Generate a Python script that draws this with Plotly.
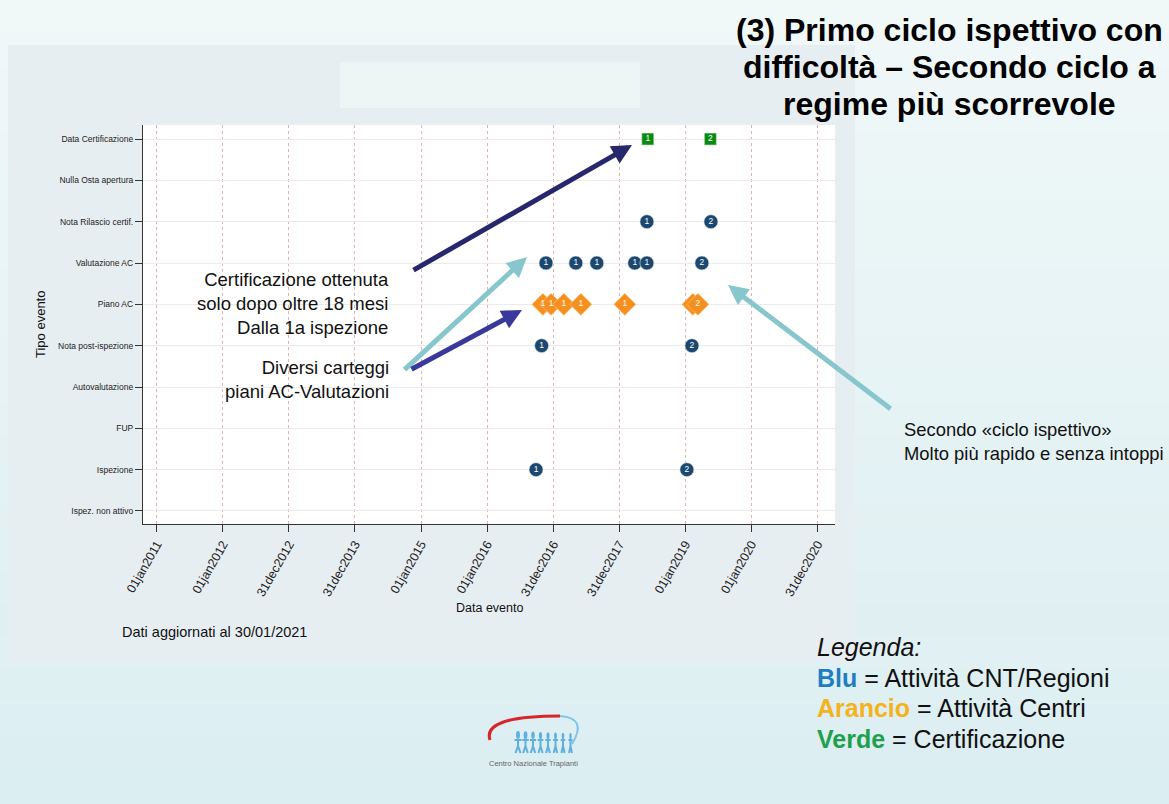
import plotly.graph_objects as go

W, H = 1169, 804
FONT = "Liberation Sans, Arial, sans-serif"


def px(x):
    return x / W


def py(y):
    return 1 - y / H


# categories, bottom to top
categories = ["Ispez. non attivo", "Ispezione", "FUP", "Autovalutazione",
              "Nota post-ispezione", "Piano AC", "Valutazione AC",
              "Nota Rilascio certif.", "Nulla Osta apertura", "Data Certificazione"]

tick_dates = ["2011-01-01", "2012-01-01", "2012-12-31", "2013-12-31", "2015-01-01",
              "2016-01-01", "2016-12-31", "2017-12-31", "2019-01-01", "2020-01-01",
              "2020-12-31"]
tick_labels = ["01jan2011", "01jan2012", "31dec2012", "31dec2013", "01jan2015",
               "01jan2016", "31dec2016", "31dec2017", "01jan2019", "01jan2020",
               "31dec2020"]

# CNT / Regioni activities (blue)
blue_dates = ["2016-09-27", "2019-01-09",
              "2016-10-28", "2019-02-06",
              "2016-11-21", "2017-05-05", "2017-08-29", "2018-03-27", "2018-06-02", "2019-04-02",
              "2018-06-02", "2019-05-22"]
blue_events = ["Ispezione", "Ispezione",
               "Nota post-ispezione", "Nota post-ispezione",
               "Valutazione AC", "Valutazione AC", "Valutazione AC", "Valutazione AC",
               "Valutazione AC", "Valutazione AC",
               "Nota Rilascio certif.", "Nota Rilascio certif."]
blue_labels = ["1", "2", "1", "2", "1", "1", "1", "1", "1", "2", "1", "2"]

# Centre activities (orange)
orange_dates = ["2016-11-04", "2016-12-19", "2017-02-28", "2017-06-02", "2018-01-31",
                "2019-02-11", "2019-03-11"]
orange_events = ["Piano AC"] * 7
orange_labels = ["1", "1", "1", "1", "1", "", "2"]

# certification (green)
green_dates = ["2018-06-07", "2019-05-19"]
green_events = ["Data Certificazione", "Data Certificazione"]
green_labels = ["1", "2"]

fig = go.Figure()

fig.add_trace(go.Scatter(
    x=orange_dates, y=orange_events, mode="markers+text", text=orange_labels,
    textposition="middle center", textfont=dict(color="white", size=8.5, family=FONT),
    marker=dict(symbol="diamond", size=17, color="#f5901e",
                line=dict(width=0.6, color="#fbd3a6")),
    cliponaxis=False, showlegend=False,
))
fig.add_trace(go.Scatter(
    x=blue_dates, y=blue_events, mode="markers+text", text=blue_labels,
    textposition="middle center", textfont=dict(color="white", size=8.5, family=FONT),
    marker=dict(symbol="circle", size=14, color="#1c476e",
                line=dict(width=0.6, color="#dfe8f0")),
    cliponaxis=False, showlegend=False,
))
fig.add_trace(go.Scatter(
    x=green_dates, y=green_events, mode="markers+text", text=green_labels,
    textposition="middle center", textfont=dict(color="white", size=8.5, family=FONT),
    marker=dict(symbol="square", size=12, color="#0b8a12",
                line=dict(width=0.6, color="#c8e6c9")),
    cliponaxis=False, showlegend=False,
))

shapes = []
# slide background: soft vertical gradient, whitish on top, pale teal at the bottom
n_bands = 24
for i in range(n_bands):
    shapes.append(dict(type="rect", xref="paper", yref="paper",
                       x0=0, x1=1, y0=1 - (i + 1) / n_bands, y1=1 - i / n_bands,
                       fillcolor=f"rgba(208,232,236,{0.15 + 0.55 * i / (n_bands - 1):.3f})",
                       line_width=0, layer="below"))
shapes += [
    # stata graph region
    dict(type="rect", xref="paper", yref="paper", x0=px(8), x1=px(855), y0=py(662), y1=py(45),
         fillcolor="#e7eef1", line_width=0, layer="below"),
    dict(type="rect", xref="paper", yref="paper", x0=px(340), x1=px(640), y0=py(108), y1=py(62),
         fillcolor="#eef5f5", line_width=0, layer="below"),
    # plot region
    dict(type="rect", xref="paper", yref="paper", x0=px(143), x1=px(835), y0=py(524), y1=py(125),
         fillcolor="white", line_width=0, layer="below"),
    # logo arcs
    dict(type="path", xref="paper", yref="paper",
         path=f"M {px(560)},{py(716)} Q {px(482)},{py(716)} {px(490)},{py(740)}",
         line=dict(color="#d7262b", width=3)),
    dict(type="path", xref="paper", yref="paper",
         path=f"M {px(560)},{py(716)} Q {px(588)},{py(718)} {px(572)},{py(744)}",
         line=dict(color="#7fc4e8", width=2)),
]

# little figures of the logo
for i in range(8):
    cx = 518 + i * 7.5
    s = 1 - i * 0.06
    shapes.append(dict(type="circle", xref="paper", yref="paper",
                       x0=px(cx - 2 * s), x1=px(cx + 2 * s), y0=py(740 - 1 * s), y1=py(736 - 5 * s),
                       fillcolor="#5fb0de", line_width=0))
    shapes.append(dict(type="path", xref="paper", yref="paper",
                       path=f"M {px(cx - 3.5 * s)},{py(740)} L {px(cx + 3.5 * s)},{py(740)} "
                            f"M {px(cx)},{py(740)} L {px(cx)},{py(746)} "
                            f"M {px(cx - 2.5 * s)},{py(753)} L {px(cx)},{py(746)} L {px(cx + 2.5 * s)},{py(753)}",
                       line=dict(color="#5fb0de", width=2)))

annotations = []


def arrow(tail, head, color):
    annotations.append(dict(
        xref="paper", yref="paper", x=px(head[0]), y=py(head[1]),
        axref="pixel", ayref="pixel", ax=tail[0] - head[0], ay=tail[1] - head[1],
        text="", showarrow=True, arrowhead=2, arrowsize=0.8, arrowwidth=5,
        arrowcolor=color,
    ))


arrow((412, 271), (632, 145), "#27276c")
arrow((403, 371), (527, 257), "#86c6cc")
arrow((410, 370), (522, 310), "#39399c")
arrow((892, 410), (728, 285), "#86c6cc")


def text(x, y, s, size, xanchor="left", align="left", color="#111", yanchor="middle", **kw):
    annotations.append(dict(
        xref="paper", yref="paper", x=px(x), y=py(y), text=s, showarrow=False,
        xanchor=xanchor, yanchor=yanchor, align=align,
        font=dict(family=FONT, size=size, color=color), **kw,
    ))


title_lines = ["(3) Primo ciclo ispettivo con", "difficoltà – Secondo ciclo a", "regime più scorrevole"]
for i, line in enumerate(title_lines):
    text(949, 30 + i * 37, f"<b>{line}</b>", 32, xanchor="center", align="center", color="#000")

text(391, 303, "Certificazione ottenuta<br>solo dopo oltre 18 mesi<br>Dalla 1a ispezione",
     18.5, xanchor="right", align="right")
text(391, 380, "Diversi carteggi<br>piani AC-Valutazioni", 18.5, xanchor="right", align="right")
text(902, 441, "Secondo «ciclo ispettivo»<br>Molto più rapido e senza intoppi", 18.4)

legend_lines = ["<i>Legenda:</i>",
                "<b><span style='color:#1f7dc2'>Blu</span></b> = Attività CNT/Regioni",
                "<b><span style='color:#f5b21b'>Arancio</span></b> = Attività Centri",
                "<b><span style='color:#1fa04e'>Verde</span></b> = Certificazione"]
for i, line in enumerate(legend_lines):
    text(815, 647 + i * 30.7, line, 25)

text(40, 325, "Tipo evento", 13, xanchor="center", align="center", textangle=-90)
text(490, 608, "Data evento", 12.5, xanchor="center", align="center")
text(120, 632, "Dati aggiornati al 30/01/2021", 14.5)
text(533, 763, "Centro Nazionale Trapianti", 7.5, xanchor="center", align="center", color="#666")

fig.update_layout(
    width=W, height=H,
    margin=dict(l=0, r=0, t=0, b=0),
    paper_bgcolor="#f6fbfb",
    plot_bgcolor="white",
    font=dict(family=FONT, color="#222"),
    shapes=shapes,
    annotations=annotations,
    xaxis=dict(
        type="date", range=["2010-10-16", "2021-04-07"], domain=[px(143), px(835)],
        tickvals=tick_dates, ticktext=tick_labels, tickangle=-60,
        tickfont=dict(size=12.5, color="#222"),
        showgrid=True, gridcolor="#dcb2b2", griddash="dot", gridwidth=1,
        showline=True, linecolor="#333", linewidth=1.2,
        ticks="outside", ticklen=7, tickcolor="#333", zeroline=False,
        automargin=False,
    ),
    yaxis=dict(
        type="category", categoryorder="array", categoryarray=categories,
        range=[-0.315, 9.34], domain=[py(524), py(125)],
        tickfont=dict(size=8.5, color="#222"),
        showgrid=True, gridcolor="#ebebeb", gridwidth=1,
        showline=True, linecolor="#333", linewidth=1.2,
        ticks="outside", ticklen=7, tickcolor="#333", zeroline=False,
        automargin=False,
    ),
)

fig.write_html("out.html", config={"displayModeBar": False},
               post_script="document.body.style.margin = '0px';")
